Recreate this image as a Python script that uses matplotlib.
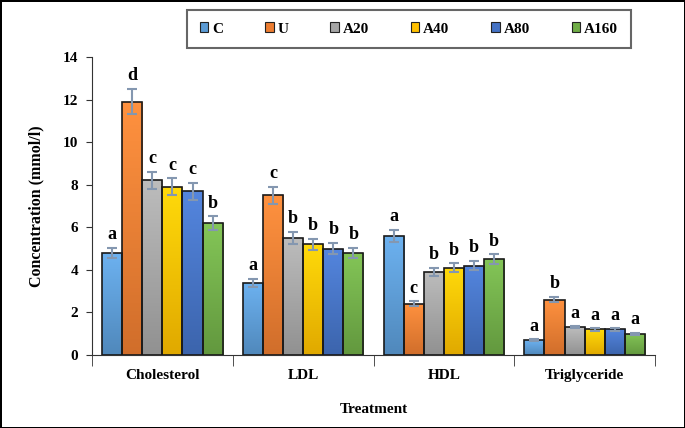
import numpy as np
import matplotlib.pyplot as plt
from matplotlib.colors import LinearSegmentedColormap, to_rgb
from matplotlib.patches import Patch

categories = ["Cholesterol", "LDL", "HDL", "Triglyceride"]
groups = ["C", "U", "A20", "A40", "A80", "A160"]
colors = ["#5B9BD5", "#ED7D31", "#A5A5A5", "#FFC000", "#4472C4", "#70AD47"]

# values per group, ordered Cholesterol, LDL, HDL, Triglyceride
C = [4.8, 3.4, 5.6, 0.7]
U = [11.9, 7.5, 2.4, 2.6]
A20 = [8.2, 5.5, 3.9, 1.3]
A40 = [7.9, 5.2, 4.1, 1.2]
A80 = [7.7, 5.0, 4.2, 1.2]
A160 = [6.2, 4.8, 4.5, 1.0]

C_err = [0.24, 0.19, 0.28, 0.04]
U_err = [0.6, 0.4, 0.12, 0.13]
A20_err = [0.42, 0.29, 0.2, 0.05]
A40_err = [0.4, 0.27, 0.21, 0.05]
A80_err = [0.4, 0.26, 0.21, 0.05]
A160_err = [0.32, 0.25, 0.23, 0.04]

C_sig = ["a", "a", "a", "a"]
U_sig = ["d", "c", "c", "b"]
A20_sig = ["c", "b", "b", "a"]
A40_sig = ["c", "b", "b", "a"]
A80_sig = ["c", "b", "b", "a"]
A160_sig = ["b", "b", "b", "a"]

values = [C, U, A20, A40, A80, A160]
errors = [C_err, U_err, A20_err, A40_err, A80_err, A160_err]
sigs = [C_sig, U_sig, A20_sig, A40_sig, A80_sig, A160_sig]

plt.rcParams["font.family"] = ["Liberation Serif", "DejaVu Serif"]
plt.rcParams["font.weight"] = "bold"

fig = plt.figure(figsize=(6.85, 4.28), dpi=100)
fig.patch.set_edgecolor("black")
fig.patch.set_linewidth(2)
ax = fig.add_axes([92 / 685, 1 - 355 / 428, 563 / 685, 298 / 428])

x = np.arange(len(categories))
w = 1 / 7
for i, (vals, errs, sg, col) in enumerate(zip(values, errors, sigs, colors)):
    pos = x + (i - 2.5) * w
    bars = ax.bar(pos, vals, w, color="none", edgecolor="#1a1a1a", linewidth=1.2, zorder=3)
    base = np.array(to_rgb(col))
    cmap = LinearSegmentedColormap.from_list(
        "g", [base * 0.88, np.minimum(base * 1.08 + 0.04, 1)])
    grad = np.linspace(0, 1, 64).reshape(-1, 1)
    for b in bars:
        bx, by = b.get_x(), b.get_y()
        im = ax.imshow(grad, cmap=cmap, aspect="auto", origin="lower",
                       extent=[bx, bx + b.get_width(), by, by + b.get_height()], zorder=2)
        im.set_clip_path(b)
    ax.errorbar(pos, vals, yerr=errs, fmt="none", ecolor="#8497B0", elinewidth=1.5,
                capsize=3.5, capthick=1.5, zorder=4)
    for p, v, e, s in zip(pos, vals, errs, sg):
        ax.text(p, v + e + 0.22, s, ha="center", va="bottom", fontsize=13,
                fontweight="bold")

ax.set_xlim(-0.5, 3.5)
ax.set_ylim(0, 14)
ax.set_yticks(range(0, 15, 2))
ax.set_xticks(x)
ax.set_xticklabels(categories, fontsize=11, fontweight="bold")
ax.set_xticks(np.arange(-0.5, 4, 1), minor=True)
ax.tick_params(axis="x", which="major", length=0, pad=10)
ax.tick_params(axis="x", which="minor", length=8, direction="out", color="#333333")
ax.tick_params(axis="y", labelsize=11, length=4, color="#333333", pad=6)
for t in ax.get_yticklabels():
    t.set_fontweight("bold")
ax.spines["top"].set_visible(False)
ax.spines["right"].set_visible(False)
ax.spines["left"].set_color("#333333")
ax.spines["bottom"].set_color("#333333")
ax.set_ylabel("Concentration (mmol/l)", fontsize=11.5, fontweight="bold", labelpad=13)
ax.set_xlabel("Treatment", fontsize=11, fontweight="bold", labelpad=15)

handles = [Patch(facecolor=c, edgecolor="#222222", linewidth=0.8) for c in colors]
leg = fig.legend(handles, groups, ncol=6, loc="center",
                 bbox_to_anchor=(409 / 685, 1 - 29 / 428),
                 prop={"weight": "bold", "size": 11}, frameon=True, fancybox=False,
                 handlelength=0.55, handleheight=0.55, handletextpad=0.25,
                 columnspacing=2.75, borderpad=0.85)
leg.get_frame().set_edgecolor("#404040")
leg.get_frame().set_linewidth(1.5)

fig.savefig("out.png", dpi=100)
